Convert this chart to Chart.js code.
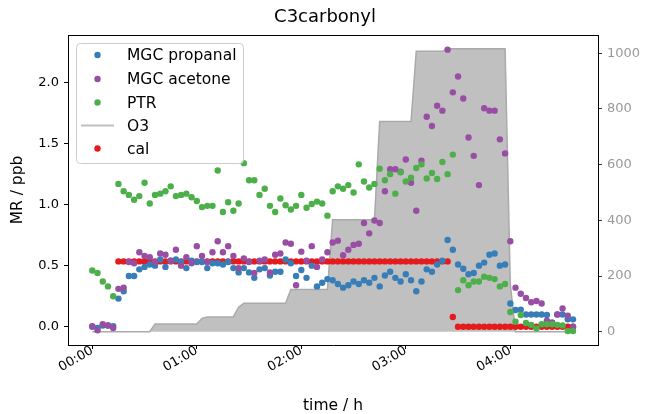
<!DOCTYPE html>
<html>
<head>
<meta charset="utf-8">
<script src="https://cdn.jsdelivr.net/npm/chart.js@4.4.0/dist/chart.umd.min.js"></script>
<style>
  html, body { margin: 0; padding: 0; background: #fff; }
  #wrap { width: 650px; height: 414px; }
</style>
</head>
<body>
<div id="wrap"><canvas id="c" width="650" height="414"></canvas></div>
<script>
// sample times, minutes after 00:00 (3 min steps)
const timeMin = [0,3,6,9,12,15,18,21,24,27,30,33,36,39,42,45,48,51,54,57,
  60,63,66,69,72,75,78,81,84,87,90,93,96,99,102,105,108,111,114,117,
  120,123,126,129,132,135,138,141,144,147,150,153,156,159,162,165,168,171,174,177,
  180,183,186,189,192,195,198,201,204,207,210,213,216,219,222,225,228,231,234,237,
  240,243,246,249,252,255,258,261,264,267,270,273,276];

// MGC propanal, ppb
const propanal = [0.00,-0.01,0.01,0.01,0.005,0.23,0.29,0.415,0.415,0.47,
  0.49,0.51,0.50,0.55,0.49,0.54,0.55,0.53,0.48,0.54,
  0.53,0.53,0.48,0.52,0.52,0.51,0.53,0.48,0.445,0.48,
  0.445,0.40,0.47,0.48,0.42,0.45,0.45,0.55,0.52,0.415,
  0.465,0.40,0.50,0.33,0.36,0.39,0.38,0.35,0.32,0.34,
  0.37,0.35,0.38,0.36,0.40,0.33,0.42,0.45,0.40,0.37,
  0.43,0.38,0.29,0.37,0.47,0.45,0.51,0.54,0.71,0.63,
  0.51,0.475,0.43,0.44,0.50,0.525,0.59,0.60,0.50,0.51,
  0.19,0.137,0.14,0.10,0.10,0.10,0.10,0.096,0.035,0.10,
  0.10,0.06,0.06];

// MGC acetone, ppb
const acetone = [0.005,-0.03,0.02,0.01,-0.01,0.31,0.32,0.53,0.52,0.61,
  0.58,0.57,0.53,0.60,0.59,0.54,0.63,0.50,0.57,0.52,
  0.66,0.58,0.53,0.61,0.70,0.61,0.66,0.58,0.48,0.56,
  0.53,0.44,0.54,0.55,0.445,0.59,0.60,0.69,0.68,0.34,
  0.615,0.54,0.66,0.49,0.55,0.61,0.69,0.705,0.585,0.63,
  0.67,0.68,0.85,0.765,0.87,0.85,1.11,1.29,1.29,1.27,
  1.37,1.18,0.95,1.36,1.72,1.645,1.81,1.77,2.27,1.92,
  2.05,1.87,1.55,1.40,1.16,1.79,1.77,1.77,1.535,1.42,
  0.70,0.32,0.27,0.235,0.20,0.21,0.19,0.05,0.03,0.10,
  0.15,0.09,0.00];

// PTR, ppb
const ptr = [0.46,0.44,0.37,0.33,0.25,1.17,1.11,1.08,1.04,1.07,
  1.18,1.01,1.08,1.09,1.11,1.15,1.07,1.08,1.09,1.06,
  1.03,0.98,0.99,0.99,1.28,0.94,1.02,0.95,1.01,1.34,
  1.20,1.20,1.08,1.13,0.99,0.94,1.05,0.995,0.96,0.99,
  1.08,0.975,1.005,1.025,1.01,0.91,1.11,1.15,1.13,1.16,
  1.10,1.33,1.19,1.14,1.17,1.295,1.20,1.25,1.09,1.265,
  1.19,1.22,1.30,1.33,1.215,1.26,1.21,1.35,1.25,1.41,
  0.30,0.38,0.34,0.37,0.37,0.41,0.40,0.39,0.33,0.35,
  0.12,0.04,0.096,0.03,0.015,-0.015,0.02,0.02,0.02,0.015,
  0.01,-0.035,-0.035];

// calibration flag level, ppb (null = no point)
const cal = [null,null,null,null,null,0.535,0.535,0.535,0.535,0.535,
  0.535,0.535,0.535,0.535,0.535,0.535,0.535,0.535,0.535,0.535,
  0.535,0.535,0.535,0.535,0.535,0.535,0.535,0.535,0.535,0.535,
  0.535,0.535,0.535,0.535,0.535,0.535,0.535,0.535,0.535,0.535,
  0.535,0.535,0.535,0.535,0.535,0.535,0.535,0.535,0.535,0.535,
  0.535,0.535,0.535,0.535,0.535,0.535,0.535,0.535,0.535,0.535,
  0.535,0.535,0.535,0.535,0.535,0.535,0.535,0.535,0.535,0.08,
  0,0,0,0,0,0,0,0,0,0,
  0,0,0,0,0,0,0,0,0,0,
  0,0,0];

// O3, right axis
const o3 = [0,0,0,0,0,0,0,0,0,0,
  0,0,28,28,28,28,28,28,28,28,
  28,48,53,53,53,53,53,53,88,102,
  102,102,102,102,102,102,102,102,152,152,
  152,152,152,152,152,152,402,402,402,402,
  402,402,402,402,402,755,755,755,755,755,
  755,755,1007,1007,1007,1007,1007,1007,1016,1016,
  1016,1016,1016,1016,1016,1016,1016,1016,1016,1016,
  170,0,0,0,0,0,0,0,0,0,
  0,0,0];

const xTickVals = [0, 60, 120, 180, 240];
const xTickLabels = ['00:00', '01:00', '02:00', '03:00', '04:00'];
const yTickVals = [0, 0.5, 1.0, 1.5, 2.0];
const y2TickVals = [0, 200, 400, 600, 800, 1000];

const FONT = 'DejaVu Sans';

function pts(ys){
  const out = [];
  timeMin.forEach((t, i) => { if(ys[i] !== null) out.push({x: t, y: ys[i]}); });
  return out;
}

function dotSet(label, ys, color, order){
  return {
    label: label, data: pts(ys), backgroundColor: color, borderColor: color,
    pointRadius: 3.2, pointBorderWidth: 0, pointHoverRadius: 3.2, showLine: false, order: order
  };
}

const datasets = [
  dotSet('MGC propanal', propanal, '#377eb8', 3),
  dotSet('MGC acetone', acetone, '#984ea3', 2),
  dotSet('PTR', ptr, '#4daf4a', 1),
  {
    type: 'line', label: 'O3', data: pts(o3), yAxisID: 'y2',
    borderColor: '#aaaaaa', borderWidth: 1.5, backgroundColor: '#c0c0c0',
    fill: 'origin', pointRadius: 0, tension: 0, order: 5
  },
  dotSet('cal', cal, '#e41a1c', 4)
];

// legend box drawn inside the plot, like the matplotlib one
const legendBox = {
  id: 'legendBox',
  afterDraw(chart){
    const ctx = chart.ctx;
    ctx.save();
    ctx.beginPath();
    ctx.roundRect(76.5, 43.5, 167, 120, 4);
    ctx.fillStyle = 'rgba(255,255,255,0.8)';
    ctx.fill();
    ctx.strokeStyle = '#cccccc';
    ctx.lineWidth = 1;
    ctx.stroke();
    ctx.font = '15.5px "' + FONT + '"';
    ctx.textBaseline = 'middle';
    ctx.fillStyle = '#000';
    const rows = [55, 79, 102.5, 125.5, 148.5];
    chart.data.datasets.forEach((ds, i) => {
      const y = rows[i];
      if(ds.type === 'line'){
        ctx.strokeStyle = '#c0c0c0';
        ctx.lineWidth = 2.2;
        ctx.beginPath(); ctx.moveTo(81, y); ctx.lineTo(114, y); ctx.stroke();
      } else {
        ctx.fillStyle = ds.backgroundColor;
        ctx.beginPath(); ctx.arc(97.5, y, 3.2, 0, Math.PI*2); ctx.fill();
      }
      ctx.fillStyle = '#000';
      ctx.fillText(ds.label, 127, y + 1);
    });
    ctx.restore();
  }
};

// top spine
const frame = {
  id: 'frame',
  afterDraw(chart){
    const a = chart.chartArea, ctx = chart.ctx;
    ctx.save();
    ctx.strokeStyle = '#000';
    ctx.lineWidth = 1;
    ctx.beginPath(); ctx.moveTo(a.left, a.top + 0.5); ctx.lineTo(a.right, a.top + 0.5); ctx.stroke();
    ctx.restore();
  }
};

new Chart(document.getElementById('c'), {
  type: 'scatter',
  data: { datasets: datasets },
  plugins: [legendBox, frame],
  options: {
    responsive: false,
    animation: false,
    devicePixelRatio: 1,
    layout: { padding: 0 },
    plugins: {
      legend: { display: false },
      tooltip: { enabled: false },
      title: {
        display: true, text: 'C3carbonyl', color: '#000',
        font: { family: FONT, size: 18, weight: 'normal' },
        padding: { top: 7, bottom: 6.4 }
      }
    },
    scales: {
      x: {
        type: 'linear', position: 'bottom', min: -13.95, max: 290.35,
        afterBuildTicks: s => { s.ticks = xTickVals.map(v => ({value: v})); },
        afterFit: s => { s.height = 69; },
        ticks: {
          callback: v => xTickLabels[xTickVals.indexOf(v)],
          minRotation: 30, maxRotation: 30, color: '#000', padding: -6,
          font: { family: FONT, size: 13 }
        },
        grid: { drawOnChartArea: false, drawTicks: true, tickLength: 4, color: '#000' },
        border: { display: true, color: '#000', width: 1 },
        title: { display: true, text: 'time / h', color: '#000', font: { family: FONT, size: 15.5 }, padding: { top: 0, bottom: -1 } }
      },
      y: {
        type: 'linear', position: 'left', min: -0.15, max: 2.39,
        afterBuildTicks: s => { s.ticks = yTickVals.map(v => ({value: v})); },
        afterFit: s => { s.width = 68; },
        ticks: {
          callback: v => v.toFixed(1), color: '#000', padding: 5,
          font: { family: FONT, size: 13 }
        },
        grid: { drawOnChartArea: false, drawTicks: true, tickLength: 4, color: '#000' },
        border: { display: true, color: '#000', width: 1 },
        title: { display: true, text: 'MR / ppb', color: '#000', font: { family: FONT, size: 15.5 }, padding: { top: 9, bottom: 0 } }
      },
      y2: {
        type: 'linear', position: 'right', min: -47.8, max: 1065.7,
        afterBuildTicks: s => { s.ticks = y2TickVals.map(v => ({value: v})); },
        afterFit: s => { s.width = 52; },
        ticks: {
          callback: v => String(v), color: '#999999', padding: 5,
          font: { family: FONT, size: 13 }
        },
        grid: { drawOnChartArea: false, drawTicks: true, tickLength: 4, color: '#333' },
        border: { display: true, color: '#000', width: 1 }
      }
    }
  }
});
</script>
</body>
</html>
